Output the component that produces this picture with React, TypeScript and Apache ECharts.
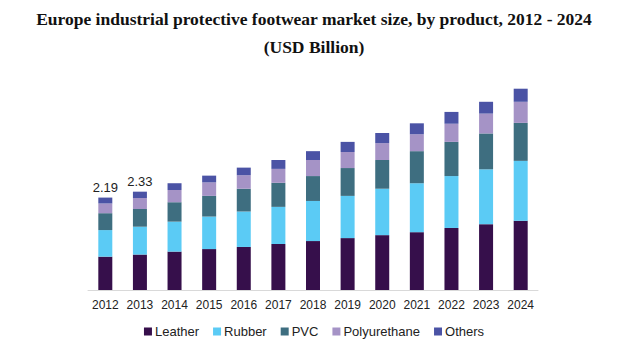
import React, { useEffect, useRef } from "react";
import * as echarts from "echarts";

const years = ["2012","2013","2014","2015","2016","2017","2018","2019","2020","2021","2022","2023","2024"];
const leather = [0.79,0.84,0.91,0.97,1.02,1.09,1.16,1.23,1.30,1.37,1.47,1.56,1.64];
const rubber = [0.63,0.66,0.71,0.77,0.84,0.88,0.95,1.00,1.10,1.16,1.23,1.30,1.42];
const pvc = [0.40,0.42,0.46,0.49,0.54,0.57,0.59,0.66,0.68,0.76,0.81,0.85,0.90];
const polyurethane = [0.23,0.26,0.29,0.32,0.32,0.33,0.38,0.38,0.40,0.40,0.43,0.47,0.50];
const others = [0.14,0.15,0.16,0.16,0.18,0.21,0.21,0.24,0.24,0.26,0.28,0.28,0.31];
const labeledYears = ["2012", "2013"];

const seriesDefs = [
  { name: "Leather", data: leather, color: "#360F4B" },
  { name: "Rubber", data: rubber, color: "#5BCBF5" },
  { name: "PVC", data: pvc, color: "#3E6E80" },
  { name: "Polyurethane", data: polyurethane, color: "#A593C6" },
  { name: "Others", data: others, color: "#4B53A5" },
];

export default function App() {
  const ref = useRef<HTMLDivElement>(null);
  useEffect(() => {
    const chart = echarts.init(ref.current!, null, { renderer: "svg" });
    const totals = years.map((_, i) => seriesDefs.reduce((s, d) => s + d.data[i], 0));
    chart.setOption({
      animation: false,
      title: {
        text: "Europe industrial protective footwear market size, by product, 2012 - 2024\n(USD Billion)",
        left: "center",
        top: 0,
        textStyle: {
          fontFamily: "Liberation Serif",
          fontWeight: "bold",
          fontSize: 17.5,
          lineHeight: 28,
          color: "#111",
        },
      },
      legend: {
        bottom: 6,
        left: "center",
        icon: "rect",
        itemWidth: 8,
        itemHeight: 8,
        itemGap: 14,
        textStyle: { fontFamily: "Liberation Sans", fontSize: 13, color: "#222", padding: [0, 0, 0, -2] },
        data: seriesDefs.map((d) => d.name),
      },
      grid: { left: 88, right: 90, top: 79, bottom: 59 },
      xAxis: {
        type: "category",
        data: years,
        axisLine: { lineStyle: { color: "#d9d9d9" } },
        axisTick: { show: false },
        axisLabel: { interval: 0, fontFamily: "Liberation Sans", fontSize: 12, color: "#222", margin: 9 },
      },
      yAxis: { type: "value", min: 0, max: 5, show: false, splitLine: { show: false } },
      series: seriesDefs.map((d, si) => ({
        name: d.name,
        type: "bar",
        stack: "total",
        barWidth: 14,
        itemStyle: { color: d.color },
        data: d.data.map((v, i) =>
          si === seriesDefs.length - 1 && labeledYears.includes(years[i])
            ? {
                value: v,
                label: {
                  show: true,
                  position: "top",
                  distance: 4,
                  formatter: totals[i].toFixed(2),
                  fontFamily: "Liberation Sans",
                  fontSize: 13,
                  color: "#222",
                },
              }
            : v
        ),
      })),
    });
    return () => chart.dispose();
  }, []);
  return <div ref={ref} style={{ width: 628, height: 349, marginLeft: -8, marginTop: -8 }} />;
}
